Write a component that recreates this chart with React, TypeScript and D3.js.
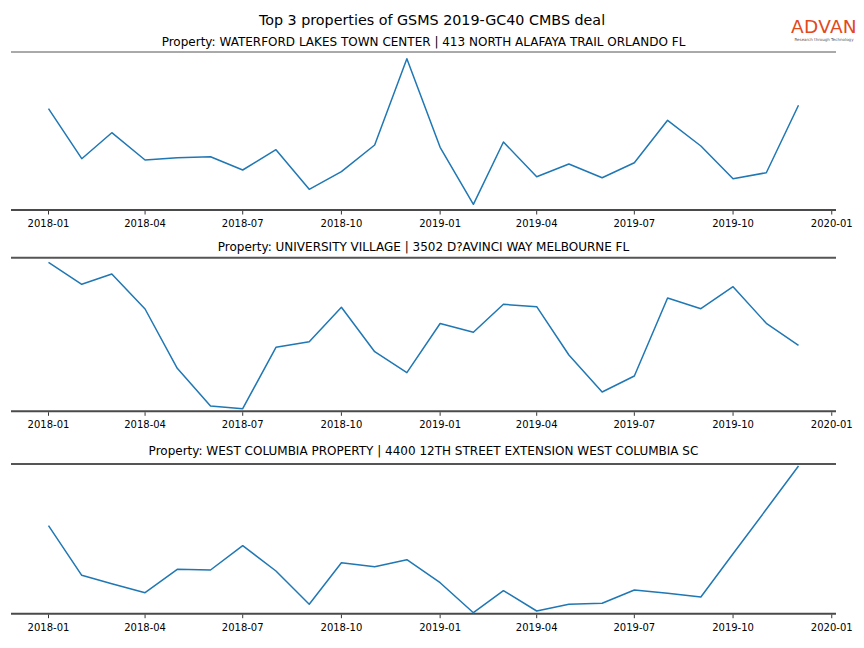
import React from "react";
import * as d3 from "d3";

const months: string[] = [
  "2018-01", "2018-02", "2018-03", "2018-04", "2018-05", "2018-06",
  "2018-07", "2018-08", "2018-09", "2018-10", "2018-11", "2018-12",
  "2019-01", "2019-02", "2019-03", "2019-04", "2019-05", "2019-06",
  "2019-07", "2019-08", "2019-09", "2019-10", "2019-11", "2019-12",
];

const waterfordValues: number[] = [
  101.3, 51.3, 77.3, 50, 52.3, 53.3, 40, 60.3, 20.7, 38.3, 65, 151.3,
  62.7, 5.7, 68, 33.3, 46, 32.3, 47.3, 89.7, 64, 31.3, 37.3, 104.7,
];
const universityValues: number[] = [
  149, 127, 137.3, 102.3, 43, 5.3, 2.6, 64, 69.6, 104, 59.6, 38.6,
  87.8, 79, 107, 104.6, 56.3, 19.3, 35.3, 113.3, 102.6, 124.6, 88, 66,
];
const westColumbiaValues: number[] = [
  88, 38.4, 30, 21, 44.4, 43.7, 68, 42.7, 9.4, 51, 47, 54,
  31, 1, 23, 2.7, 9.4, 10.4, 23.7, 20.4, 16.7, 60, 104.4, 147.7,
];

const panelTitles: string[] = [
  "Property: WATERFORD LAKES TOWN CENTER | 413 NORTH ALAFAYA TRAIL ORLANDO FL",
  "Property: UNIVERSITY VILLAGE | 3502 D?AVINCI WAY MELBOURNE FL",
  "Property: WEST COLUMBIA PROPERTY | 4400 12TH STREET EXTENSION WEST COLUMBIA SC",
];
const panelSeries: number[][] = [waterfordValues, universityValues, westColumbiaValues];
const panelYMax: number[] = [158, 153.6, 149.7];

const mainTitle = "Top 3 properties of GSMS 2019-GC40 CMBS deal";

const W = 864;
const H = 648;
const FONT = "DejaVu Sans, sans-serif";

const panels = [
  { top: 52, bottom: 210, titleY: 46, topW: 1 },
  { top: 257.7, bottom: 411.3, titleY: 250.5, topW: 2 },
  { top: 464, bottom: 613.7, titleY: 455, topW: 2 },
];

const parse = d3.timeParse("%Y-%m");
const dates = months.map((m) => parse(m) as Date);
const fmt = d3.timeFormat("%Y-%m");

export default function App() {
  const first = dates[0].getTime();
  const last = dates[dates.length - 1].getTime();
  const pad = (last - first) * 0.05;
  const x = d3
    .scaleTime()
    .domain([new Date(first - pad), new Date(last + pad)])
    .range([11, 836]);
  const ticks = d3.timeMonth
    .every(3)!
    .range(new Date(2018, 0, 1), new Date(2020, 0, 2));

  return (
    <svg
      width={W}
      height={H}
      style={{ position: "absolute", left: 0, top: 0, background: "#fff" }}
      fontFamily={FONT}
    >
      <rect width={W} height={H} fill="#fff" />
      <text x={432} y={25} textAnchor="middle" fontSize={14.3} fill="#000">
        {mainTitle}
      </text>
      <g>
        <text x={824} y={33} textAnchor="middle" fontSize={18.5} fill="#e2491c" letterSpacing={0.3}>
          ADVAN
        </text>
        <text x={824} y={40.5} textAnchor="middle" fontSize={4} fill="#555">
          Research through Technology
        </text>
      </g>
      {panels.map((p, i) => {
        const y = d3.scaleLinear().domain([0, panelYMax[i]]).range([p.bottom, p.top]);
        const line = d3
          .line<number>()
          .x((_, j) => x(dates[j]))
          .y((v) => y(v));
        return (
          <g key={i}>
            <text x={423.5} y={p.titleY} textAnchor="middle" fontSize={12} fill="#000">
              {panelTitles[i]}
            </text>
            <line x1={11} x2={836} y1={p.top} y2={p.top} stroke="#555" strokeWidth={p.topW} />
            <line x1={11} x2={836} y1={p.bottom} y2={p.bottom} stroke="#4a4a4a" strokeWidth={2} />
            <path
              d={line(panelSeries[i]) || ""}
              fill="none"
              stroke="#1f77b4"
              strokeWidth={1.5}
              strokeLinejoin="round"
            />
            {ticks.map((t, k) => (
              <g key={k} transform={`translate(${x(t)},${p.bottom})`}>
                <line y1={1} y2={4.5} stroke="#000" strokeWidth={0.8} />
                <text y={17} textAnchor="middle" fontSize={10} fill="#000">
                  {fmt(t)}
                </text>
              </g>
            ))}
          </g>
        );
      })}
    </svg>
  );
}
